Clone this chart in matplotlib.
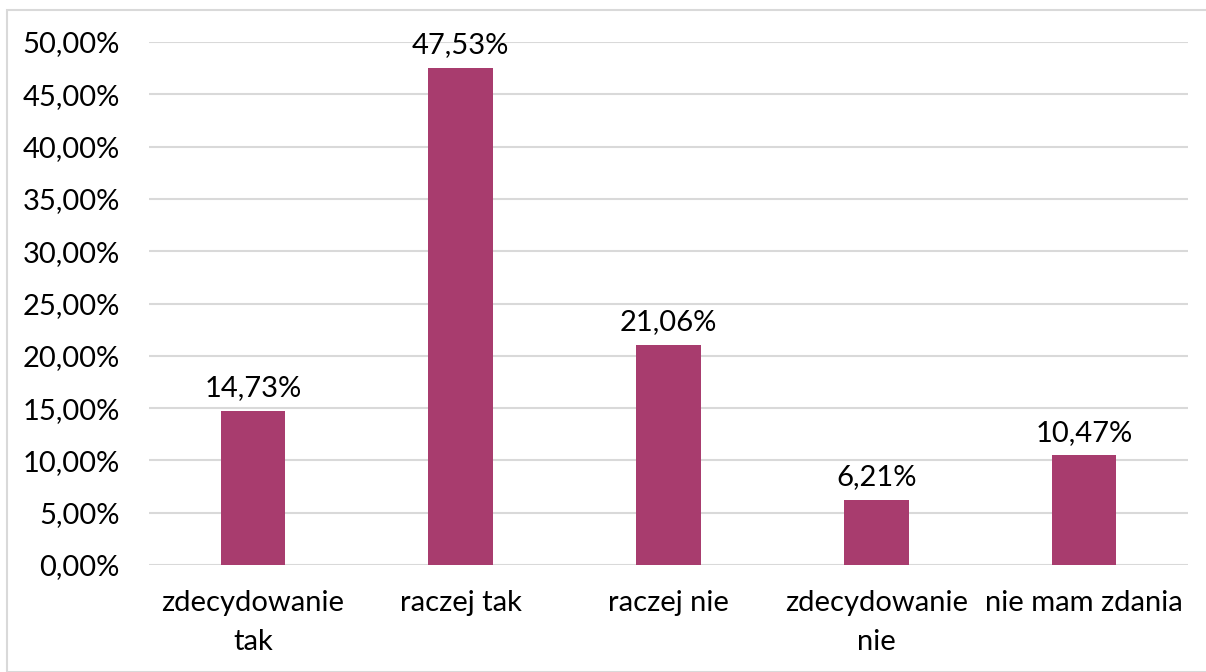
import matplotlib.pyplot as plt
from matplotlib.patches import Rectangle
from matplotlib.ticker import FuncFormatter

categories = ["zdecydowanie\ntak", "raczej tak", "raczej nie", "zdecydowanie\nnie", "nie mam zdania"]
values = [14.73, 47.53, 21.06, 6.21, 10.47]

plt.rcParams['font.family'] = ['Lato', 'DejaVu Sans']

fig = plt.figure(figsize=(12.06, 6.72), dpi=100)
fig.patches.append(Rectangle((7 / 1206, 0), 1.2, 1 - 10 / 672, transform=fig.transFigure,
                             fill=False, edgecolor="#D9D9D9", linewidth=1.5))
ax = fig.add_axes([149 / 1206, 1 - 565 / 672, (1188 - 149) / 1206, (565 - 42) / 672])

x = range(len(categories))
ax.bar(x, values, width=0.31, color="#A83C6E", zorder=3)
for xi, v in zip(x, values):
    ax.annotate(f"{v:.2f}%".replace(".", ","), (xi, v), xytext=(0, 7), textcoords="offset points",
                ha="center", va="bottom", fontsize=21)

ax.set_xlim(-0.5, len(categories) - 0.5)
ax.set_ylim(0, 50)
ax.set_yticks(range(0, 51, 5))
ax.yaxis.set_major_formatter(FuncFormatter(lambda v, p: f"{v:.2f}%".replace(".", ",")))
ax.set_xticks(list(x))
ax.set_xticklabels(categories, linespacing=1.6)
ax.tick_params(axis="both", length=0, labelsize=21)
ax.tick_params(axis="x", pad=18)
ax.tick_params(axis="y", pad=21)
ax.grid(axis="y", color="#D9D9D9", linewidth=1.5, zorder=0)
for s in ax.spines.values():
    s.set_visible(False)

plt.savefig("out.png")
